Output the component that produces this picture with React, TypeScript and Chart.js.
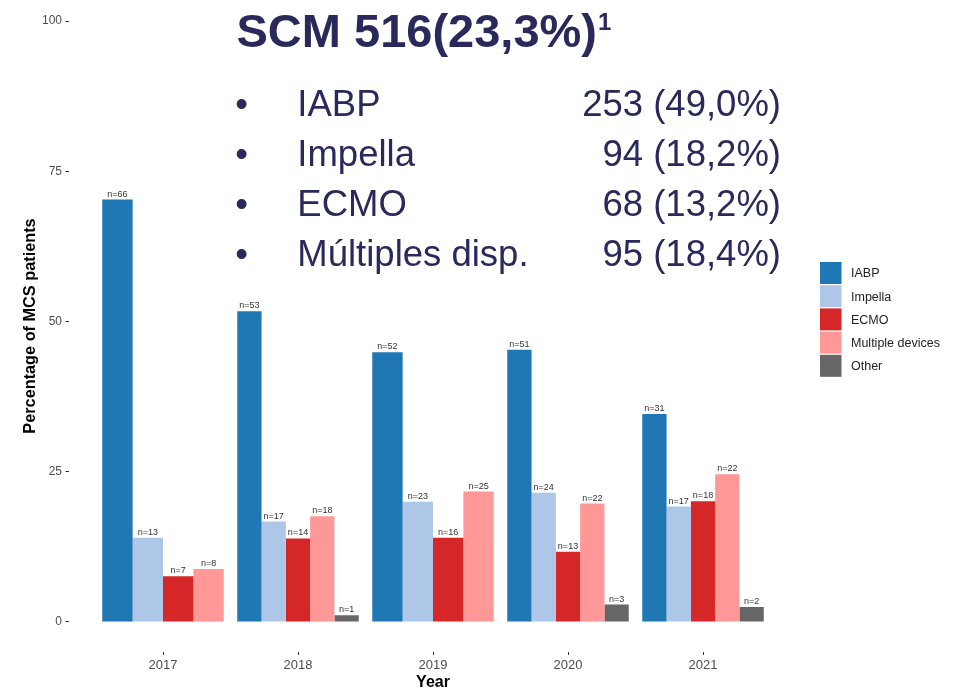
import React, { useEffect, useRef } from 'react';
import { Chart, registerables } from 'chart.js';

Chart.register(...registerables);

// ---- data ----
const years = ['2017', '2018', '2019', '2020', '2021'];
const seriesNames = ['IABP', 'Impella', 'ECMO', 'Multiple devices', 'Other'];
const iabpPct = [70.3, 51.7, 44.9, 45.3, 34.6];
const impellaPct = [14.0, 16.7, 20.0, 21.5, 19.2];
const ecmoPct = [7.6, 13.9, 14.0, 11.7, 20.1];
const multiPct = [8.8, 17.6, 21.7, 19.7, 24.6];
const otherPct = [null, 1.1, null, 2.9, 2.5];
const iabpN = [66, 53, 52, 51, 31];
const impellaN = [13, 17, 23, 24, 17];
const ecmoN = [7, 14, 16, 13, 18];
const multiN = [8, 18, 25, 22, 22];
const otherN = [null, 1, null, 3, 2];
const yTicks = [0, 25, 50, 75, 100];
const colors = ['#1f77b4', '#aec7e8', '#d62728', '#ff9896', '#666666'];

const summaryTitle = 'SCM 516(23,3%)';
const summaryNote = '1';
const summaryLabels = ['IABP', 'Impella', 'ECMO', 'Múltiples disp.'];
const summaryValues = ['253 (49,0%)', '94 (18,2%)', '68 (13,2%)', '95 (18,4%)'];

const allPct = [iabpPct, impellaPct, ecmoPct, multiPct, otherPct];
const allN = [iabpN, impellaN, ecmoN, multiN, otherN];

const FONT = "'Liberation Sans', Arial, sans-serif";
const NAVY = '#29295b';

const nLabelPlugin = {
  id: 'nLabels',
  afterDatasetsDraw(chart: any) {
    const ctx = chart.ctx;
    ctx.save();
    ctx.font = `9px ${FONT}`;
    ctx.fillStyle = '#333333';
    ctx.textAlign = 'center';
    ctx.textBaseline = 'alphabetic';
    chart.data.datasets.forEach((ds: any, i: number) => {
      const meta = chart.getDatasetMeta(i);
      meta.data.forEach((bar: any, j: number) => {
        const n = allN[i][j];
        if (n == null || allPct[i][j] == null) return;
        ctx.fillText('n=' + n, bar.x, bar.y - 3);
      });
    });
    ctx.restore();
  },
};

const legendPlugin = {
  id: 'customLegend',
  afterDraw(chart: any) {
    const ctx = chart.ctx;
    ctx.save();
    const x0 = 820;
    const y0 = 262;
    const step = 23.2;
    chart.data.datasets.forEach((ds: any, i: number) => {
      const y = y0 + i * step;
      ctx.fillStyle = ds.backgroundColor;
      ctx.fillRect(x0, y, 21.5, 22);
      ctx.fillStyle = '#222222';
      ctx.font = `12.5px ${FONT}`;
      ctx.textAlign = 'left';
      ctx.textBaseline = 'middle';
      ctx.fillText(ds.label, 851, y + 12);
    });
    ctx.restore();
  },
};

function ChartCanvas() {
  const ref = useRef<HTMLCanvasElement | null>(null);
  useEffect(() => {
    if (!ref.current) return;
    const datasets = seriesNames.map((name, i) => ({
      label: name,
      data: years.map((_, j) => ({ x: j + 1, y: allPct[i][j] })),
      backgroundColor: colors[i],
      borderWidth: 0,
      categoryPercentage: 0.9,
      barPercentage: 1.0,
      skipNull: true,
    }));
    const chart = new Chart(ref.current, {
      type: 'bar',
      data: { datasets } as any,
      plugins: [nLabelPlugin, legendPlugin],
      options: {
        responsive: false,
        animation: false,
        devicePixelRatio: 1,
        layout: { padding: { left: 0, top: 0, right: 157.5, bottom: 0 } },
        plugins: {
          legend: { display: false },
          tooltip: { enabled: false },
          title: { display: false },
        },
        scales: {
          x: {
            type: 'linear',
            offset: false,
            min: 0.3,
            max: 5.7,
            afterBuildTicks: (scale: any) => {
              scale.ticks = years.map((_, j) => ({ value: j + 1 }));
            },
            afterFit: (scale: any) => {
              scale.height = 37;
              scale.paddingLeft = 0;
              scale.paddingRight = 0;
            },
            ticks: {
              callback: (v: any) => years[Number(v) - 1] ?? '',
              font: { family: FONT, size: 13 },
              color: '#4d4d4d',
              padding: 3,
              maxRotation: 0,
              autoSkip: false,
            },
            grid: {
              display: true,
              offset: false,
              drawOnChartArea: false,
              drawTicks: true,
              tickLength: 3,
              tickColor: '#333333',
              tickWidth: 1,
            },
            border: { display: false },
            title: {
              display: true,
              text: 'Year',
              font: { family: FONT, size: 16, weight: 'bold', lineHeight: 0.8 },
              color: '#000000',
              padding: { top: 0, bottom: 0 },
            },
          },
          y: {
            type: 'linear',
            min: -5,
            max: 103.5,
            afterBuildTicks: (scale: any) => {
              scale.ticks = yTicks.map((v) => ({ value: v }));
            },
            afterFit: (scale: any) => {
              scale.width = 68.5;
              scale.paddingTop = 0;
              scale.paddingBottom = 0;
            },
            ticks: {
              font: { family: FONT, size: 12 },
              color: '#4d4d4d',
              padding: 3.5,
            },
            grid: {
              display: true,
              drawOnChartArea: false,
              drawTicks: true,
              tickLength: 3,
              tickColor: '#333333',
              tickWidth: 1,
            },
            border: { display: false },
            title: {
              display: true,
              text: 'Percentage of MCS patients',
              font: { family: FONT, size: 16.3, weight: 'bold', lineHeight: 0.8 },
              color: '#000000',
              padding: { top: 24, bottom: 0 },
            },
          },
        },
      } as any,
    });
    return () => chart.destroy();
  }, []);
  return <canvas ref={ref} width={955} height={689} style={{ width: 955, height: 689, display: 'block' }} />;
}

export default function App() {
  return (
    <div style={{ position: 'absolute', left: 0, top: 0, width: 955, height: 689, background: '#ffffff', overflow: 'hidden' }}>
      <ChartCanvas />
      <div
        style={{
          position: 'absolute',
          left: 236.5,
          top: 7.2,
          fontFamily: FONT,
          fontWeight: 'bold',
          fontSize: 47,
          lineHeight: '47px',
          color: NAVY,
          whiteSpace: 'nowrap',
        }}
      >
        {summaryTitle}
        <span style={{ fontSize: 24, position: 'relative', top: -17, marginLeft: 1 }}>{summaryNote}</span>
      </div>
      {summaryLabels.map((lab, i) => (
        <React.Fragment key={lab}>
          <div
            style={{
              position: 'absolute',
              left: 235.3,
              top: 79 + i * 50,
              fontFamily: FONT,
              fontSize: 36.5,
              lineHeight: '50px',
              color: NAVY,
              whiteSpace: 'nowrap',
            }}
          >
            {'\u2022'}
          </div>
          <div
            style={{
              position: 'absolute',
              left: 297.3,
              top: 79 + i * 50,
              fontFamily: FONT,
              fontSize: 36.5,
              lineHeight: '50px',
              color: NAVY,
              whiteSpace: 'nowrap',
            }}
          >
            {lab}
          </div>
          <div
            style={{
              position: 'absolute',
              right: 955 - 781,
              top: 79 + i * 50,
              fontFamily: FONT,
              fontSize: 36.5,
              lineHeight: '50px',
              color: NAVY,
              whiteSpace: 'nowrap',
              textAlign: 'right',
            }}
          >
            {summaryValues[i]}
          </div>
        </React.Fragment>
      ))}
    </div>
  );
}
